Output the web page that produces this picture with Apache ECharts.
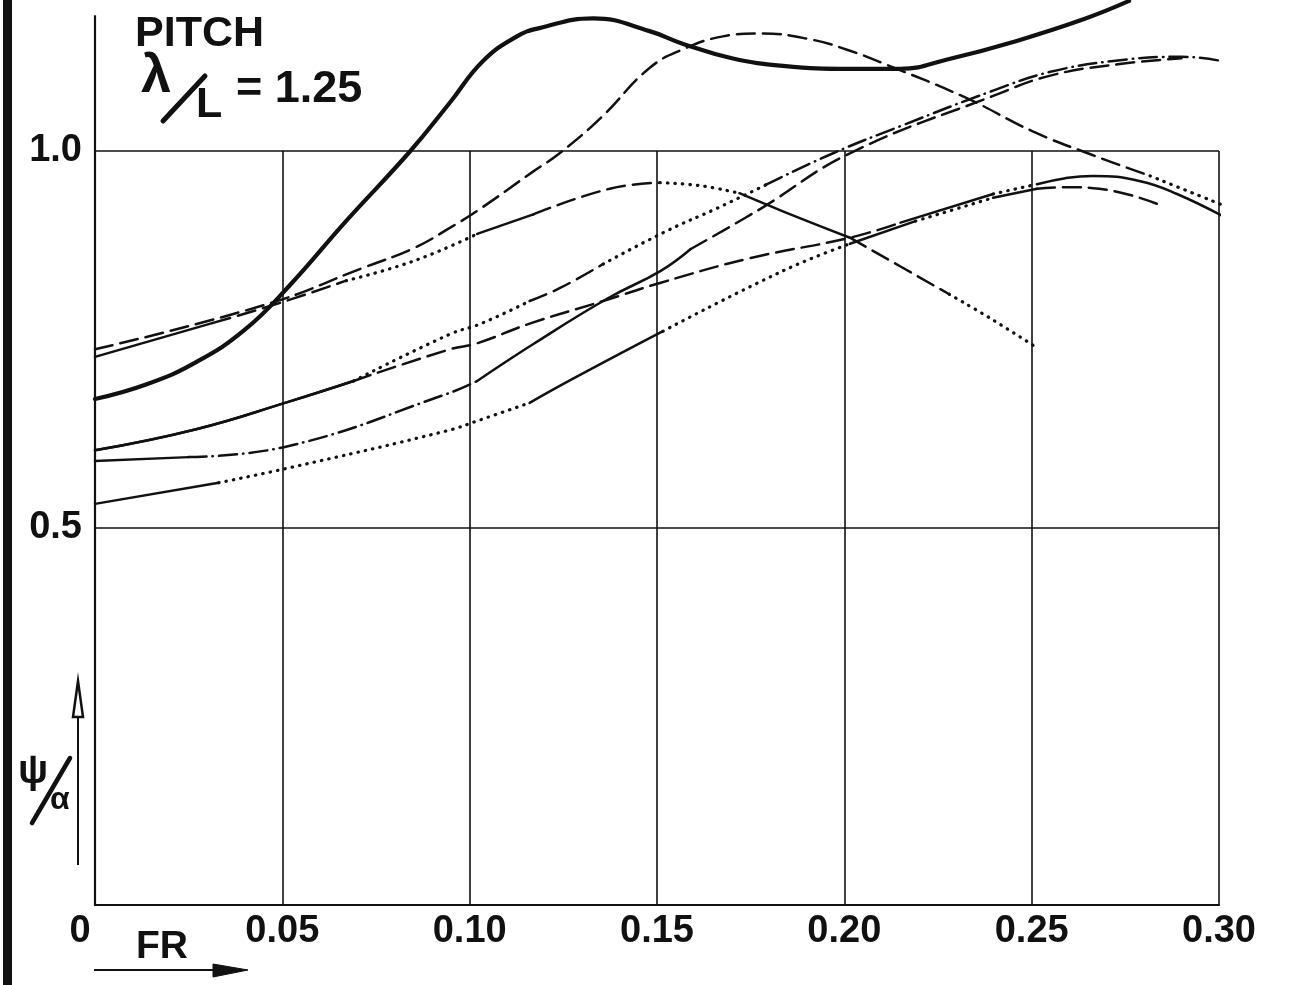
<!DOCTYPE html>
<html>
<head>
<meta charset="utf-8">
<title>PITCH λ/L = 1.25</title>
<script src="https://cdn.jsdelivr.net/npm/echarts@6/dist/echarts.min.js"></script>
<style>
html, body { margin: 0; padding: 0; background: #fff; }
#chart { width: 1301px; height: 985px; }
</style>
</head>
<body>
<div id="chart"></div>
<script>
// axis ticks
var frTicks = [0, 0.05, 0.10, 0.15, 0.20, 0.25, 0.30];
var psiTicks = [0, 0.5, 1.0];

// curves: [FR, psi/alpha]
var curveA = [[0,0.671],[0.014,0.691],[0.027,0.72],[0.04,0.763],[0.052,0.822],[0.067,0.907],[0.084,0.999],[0.0947,1.064],[0.1035,1.119],[0.1126,1.152],[0.1186,1.163],[0.133,1.176],[0.148,1.159],[0.157,1.142],[0.17,1.123],[0.1836,1.113],[0.2015,1.109],[0.2148,1.109],[0.228,1.122],[0.246,1.146],[0.264,1.175],[0.276,1.199]];
var curveB = [[0,0.737],[0.046,0.797],[0.0715,0.845],[0.085,0.871],[0.0947,0.898],[0.103,0.924],[0.117,0.973],[0.124,0.997],[0.135,1.044],[0.148,1.11],[0.157,1.135],[0.1676,1.152],[0.1775,1.156],[0.191,1.148],[0.2015,1.133],[0.211,1.115],[0.2327,1.07],[0.2503,1.026],[0.2655,0.996],[0.2816,0.967],[0.3016,0.927]];
var curveC = [[0,0.727],[0.0315,0.772],[0.049,0.798],[0.067,0.828],[0.085,0.854],[0.102,0.89],[0.117,0.916],[0.1374,0.95],[0.1508,0.958],[0.1615,0.954],[0.172,0.944],[0.1836,0.92],[0.2015,0.885],[0.228,0.81],[0.239,0.778],[0.2514,0.739]];
var curveE = [[0,0.603],[0.027,0.631],[0.052,0.668],[0.069,0.695],[0.0947,0.757],[0.103,0.771],[0.116,0.801],[0.124,0.818],[0.1356,0.85],[0.1526,0.894],[0.166,0.924],[0.179,0.955],[0.197,0.997],[0.215,1.033],[0.2397,1.08],[0.255,1.105],[0.273,1.12],[0.29,1.125],[0.3048,1.115]];
var curveF = [[0,0.589],[0.025,0.594],[0.052,0.609],[0.094,0.678],[0.102,0.695],[0.117,0.744],[0.137,0.805],[0.151,0.841],[0.159,0.87],[0.1775,0.923],[0.2015,0.997],[0.2397,1.073],[0.255,1.1],[0.273,1.115],[0.29,1.123]];
var curveG = [[0,0.603],[0.027,0.631],[0.052,0.668],[0.069,0.695],[0.0947,0.737],[0.102,0.745],[0.116,0.771],[0.1356,0.801],[0.1508,0.825],[0.175,0.858],[0.2015,0.885],[0.215,0.905],[0.2397,0.943],[0.2514,0.956],[0.259,0.964],[0.2663,0.967],[0.279,0.96],[0.2888,0.943],[0.302,0.911]];
var curveH = [[0,0.532],[0.033,0.56],[0.052,0.58],[0.094,0.629],[0.102,0.642],[0.116,0.666],[0.1276,0.698],[0.1516,0.761],[0.1836,0.841],[0.2015,0.877],[0.219,0.907],[0.2397,0.938],[0.2514,0.95],[0.259,0.952],[0.268,0.95],[0.2834,0.93]];

var ink = '#111';
var dashTypes = {
  solid: 'solid',
  dash: [18, 8],
  dot: [0.5, 7],
  dashdot: [18, 6, 0.5, 6]
};

// each curve changes its line pattern along its length: [upToFR, pattern]
var curves = [
  { name: 'A', pts: curveA, width: 4.2, runs: [[0.3, 'solid']] },
  { name: 'B', pts: curveB, width: 2.5, runs: [[0.2816, 'dash'], [0.31, 'dot']] },
  { name: 'C', pts: curveC, width: 2.5, runs: [[0.0315, 'solid'], [0.067, 'dash'], [0.102, 'dot'], [0.117, 'solid'], [0.1508, 'dash'], [0.172, 'dot'], [0.2015, 'solid'], [0.228, 'dash'], [0.31, 'dot']] },
  { name: 'E', pts: curveE, width: 2.5, runs: [[0.069, 'solid'], [0.116, 'dot'], [0.1356, 'dash'], [0.179, 'dot'], [0.31, 'dashdot']] },
  { name: 'F', pts: curveF, width: 2.5, runs: [[0.025, 'solid'], [0.102, 'dashdot'], [0.159, 'solid'], [0.31, 'dash']] },
  { name: 'G', pts: curveG, width: 2.5, runs: [[0.069, 'solid'], [0.215, 'dash'], [0.2397, 'solid'], [0.2514, 'dot'], [0.31, 'solid']] },
  { name: 'H', pts: curveH, width: 2.5, runs: [[0.033, 'solid'], [0.116, 'dot'], [0.1516, 'solid'], [0.2015, 'dot'], [0.219, 'solid'], [0.2397, 'dot'], [0.2514, 'solid'], [0.31, 'dash']] }
];

function nearestIdx(pts, x) {
  var best = 0;
  for (var i = 1; i < pts.length; i++) {
    if (Math.abs(pts[i][0] - x) < Math.abs(pts[best][0] - x)) best = i;
  }
  return best;
}

var series = [];
curves.forEach(function (c) {
  var start = 0;
  c.runs.forEach(function (r, k) {
    var end = k === c.runs.length - 1 ? c.pts.length - 1 : nearestIdx(c.pts, r[0]);
    if (end <= start) return;
    series.push({
      type: 'line',
      name: c.name,
      data: c.pts.slice(start, end + 1),
      smooth: 0.45,
      symbol: 'none',
      clip: false,
      silent: true,
      lineStyle: {
        color: ink,
        width: r[1] === 'dot' ? 3.2 : c.width,
        type: dashTypes[r[1]],
        cap: 'round'
      }
    });
    start = end;
  });
});

var fontFam = 'Liberation Sans';

var chart = echarts.init(document.getElementById('chart'), null, { renderer: 'canvas' });
chart.setOption({
  animation: false,
  backgroundColor: '#fff',
  grid: { left: 95, right: 82, top: 151, bottom: 80 },
  xAxis: {
    type: 'value',
    min: frTicks[0],
    max: frTicks[frTicks.length - 1],
    interval: 0.05,
    axisLine: { show: true, lineStyle: { color: ink, width: 2.2 } },
    axisTick: { show: false },
    splitLine: { show: true, lineStyle: { color: ink, width: 1.6 } },
    axisLabel: {
      margin: 8,
      fontFamily: fontFam,
      fontWeight: 'bold',
      fontSize: 38,
      color: ink,
      formatter: function (v) {
        if (v === 0) return '{z|0}';
        return v.toFixed(2);
      },
      rich: { z: { fontFamily: fontFam, fontWeight: 'bold', fontSize: 38, color: ink, padding: [0, 30, 0, 0] } }
    }
  },
  yAxis: {
    type: 'value',
    min: psiTicks[0],
    max: psiTicks[psiTicks.length - 1],
    interval: 0.5,
    axisLine: { show: true, lineStyle: { color: ink, width: 2.2 } },
    axisTick: { show: false },
    splitLine: { show: true, lineStyle: { color: ink, width: 1.6 } },
    axisLabel: {
      margin: 13,
      fontFamily: fontFam,
      fontWeight: 'bold',
      fontSize: 38,
      color: ink,
      formatter: function (v) { return v === 0 ? '' : v.toFixed(1); }
    }
  },
  series: series
});

// y axis line carries on above 1.0 up to about 1.18
var p0 = chart.convertToPixel({ gridIndex: 0 }, [0, 1.0]);
var p1 = chart.convertToPixel({ gridIndex: 0 }, [0, 1.18]);

var txt = function (x, y, s, size) {
  return {
    type: 'text', left: x, top: y, silent: true,
    style: { text: s, fill: ink, font: 'bold ' + size + 'px "Liberation Sans", sans-serif' }
  };
};

chart.setOption({
  graphic: [
    // scan border bar on the left
    { type: 'rect', shape: { x: 3, y: 0, width: 9, height: 985 }, style: { fill: ink }, silent: true },
    { type: 'line', shape: { x1: p0[0], y1: p0[1], x2: p1[0], y2: p1[1] }, style: { stroke: ink, lineWidth: 2.2 }, silent: true },
    // title block
    txt(135, 13, 'PITCH', 43),
    txt(141, 50, 'λ', 54),
    { type: 'line', shape: { x1: 163, y1: 121, x2: 205, y2: 76 }, style: { stroke: ink, lineWidth: 5, lineCap: 'round' }, silent: true },
    txt(196, 84, 'L', 43),
    txt(236, 67, '= 1.25', 45),
    // y axis caption psi/alpha with upward arrow
    txt(18, 752, 'ψ', 40),
    { type: 'line', shape: { x1: 32, y1: 823, x2: 70, y2: 758 }, style: { stroke: ink, lineWidth: 4.5, lineCap: 'round' }, silent: true },
    txt(50, 784, 'α', 32),
    { type: 'line', shape: { x1: 78, y1: 865, x2: 78, y2: 712 }, style: { stroke: ink, lineWidth: 2 }, silent: true },
    { type: 'polygon', shape: { points: [[78, 681], [83, 717], [73, 717]] }, style: { fill: '#fff', stroke: ink, lineWidth: 2.5 }, silent: true },
    // x axis caption FR with arrow
    txt(136, 928, 'FR', 39),
    { type: 'line', shape: { x1: 94, y1: 970, x2: 218, y2: 970 }, style: { stroke: ink, lineWidth: 2 }, silent: true },
    { type: 'polygon', shape: { points: [[213, 964], [248, 970], [213, 977]] }, style: { fill: ink, stroke: ink, lineWidth: 1 }, silent: true }
  ]
});
</script>
</body>
</html>
